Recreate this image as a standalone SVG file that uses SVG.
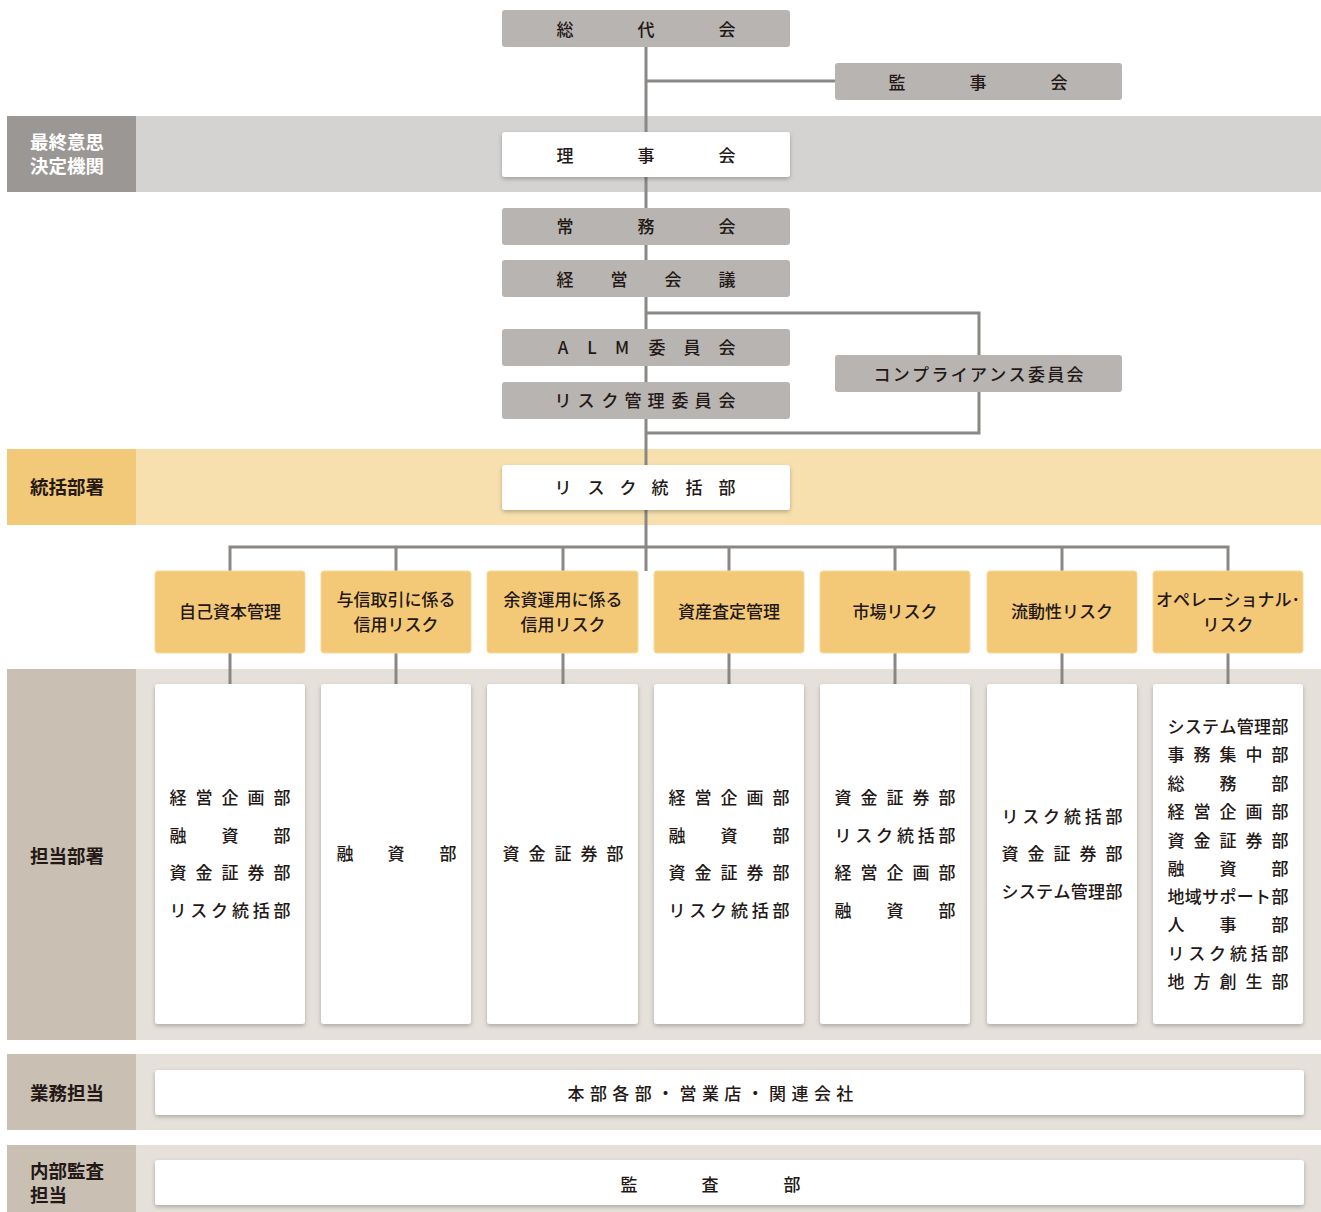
<svg xmlns="http://www.w3.org/2000/svg" width="1321" height="1212" viewBox="0 0 1321 1212">
<defs>
<filter id="sh" x="-10%" y="-20%" width="120%" height="150%">
<feDropShadow dx="0" dy="2" stdDeviation="2" flood-color="#000" flood-opacity="0.25"/>
</filter>
<style>
text{font-family:"Noto Sans CJK JP","Noto Sans",sans-serif;font-size:17px;fill:#231815;dominant-baseline:central;font-weight:500;text-anchor:middle;transform:translate(0px,-1px)}
.lab{font-size:18.5px;font-weight:700;text-anchor:start}
.labw{font-size:18.5px;font-weight:700;fill:#fff;text-anchor:start}
.g{fill:#b8b4b2}
.w{fill:#fff;filter:url(#sh)}
.y{fill:#f3c978;stroke:#f6d999;stroke-width:1}
.ln{stroke:#8a8785;stroke-width:3;fill:none}
</style>
</defs>
<rect width="1321" height="1212" fill="#fff"/>
<g id="bands">
<rect x="136" y="116" width="1185" height="76" fill="#d4d3d1"/>
<rect x="7" y="116" width="129" height="76" fill="#9b9794"/>
<rect x="136" y="449" width="1185" height="76" fill="#f8e0ae"/>
<rect x="7" y="449" width="129" height="76" fill="#f2c978"/>
<rect x="136" y="669" width="1185" height="371" fill="#e5e0d9"/>
<rect x="7" y="669" width="129" height="371" fill="#c9c0b3"/>
<rect x="136" y="1054" width="1185" height="76" fill="#e5e0d9"/>
<rect x="7" y="1054" width="129" height="76" fill="#c9c0b3"/>
<rect x="136" y="1145" width="1185" height="67" fill="#e5e0d9"/>
<rect x="7" y="1145" width="129" height="67" fill="#c9c0b3"/>
<text class="labw" x="30" y="142">最終意思</text>
<text class="labw" x="30" y="166">決定機関</text>
<text class="lab" x="30" y="487">統括部署</text>
<text class="lab" x="30" y="856">担当部署</text>
<text class="lab" x="30" y="1093">業務担当</text>
<text class="lab" x="30" y="1171">内部監査</text>
<text class="lab" x="30" y="1195">担当</text>
</g>
<g id="connectors">
<path class="ln" d="M646 47V571"/>
<path class="ln" d="M646 81H835"/>
<path class="ln" d="M646 313H979V433H646"/>
<path class="ln" d="M230 571V547H1228V571M396 547V571M563 547V571M729 547V571M895 547V571M1062 547V571"/>
<path class="ln" d="M230 653V684M396 653V684M563 653V684M729 653V684M895 653V684M1062 653V684M1228 653V684"/>
</g>
<g id="n-soudai"><rect class="g" x="502" y="10" width="288" height="37" rx="3"/><text x="565 646 727" y="29">総代会</text></g>
<g id="n-kanji"><rect class="g" x="835" y="63" width="287" height="37" rx="3"/><text x="897 978 1059" y="82">監事会</text></g>
<g id="n-riji"><rect class="w" x="502" y="132" width="288" height="45" rx="3"/><text x="565 646 727" y="155">理事会</text></g>
<g id="n-joumu"><rect class="g" x="502" y="208" width="288" height="37" rx="3"/><text x="565 646 727" y="226">常務会</text></g>
<g id="n-keiei"><rect class="g" x="502" y="260" width="288" height="37" rx="3"/><text x="565 619 673 727" y="279">経営会議</text></g>
<g id="n-alm"><rect class="g" x="502" y="329" width="288" height="37" rx="3"/><text x="563 592 622 657 692 727" y="347">ALM委員会</text></g>
<g id="n-risk-iin"><rect class="g" x="502" y="382" width="288" height="37" rx="3"/><text x="563 586 610 633 656 680 703 727" y="400">リスク管理委員会</text></g>
<g id="n-comp"><rect class="g" x="835" y="355" width="287" height="37" rx="3"/><text x="882 901.3 920.6 939.9 959.2 978.5 997.8 1017.1 1036.4 1055.7 1075" y="374">コンプライアンス委員会</text></g>
<g id="n-risk-tokatsu"><rect class="w" x="502" y="465" width="288" height="45" rx="3"/><text x="563 596 628 660 694 727" y="487">リスク統括部</text></g>
<g id="n-y1"><rect class="y" x="155" y="571" width="150" height="82" rx="3"/><text x="230" y="611">自己資本管理</text></g>
<g id="n-y2"><rect class="y" x="321" y="571" width="150" height="82" rx="3"/><text x="396" y="599">与信取引に係る</text><text x="396" y="624">信用リスク</text></g>
<g id="n-y3"><rect class="y" x="487" y="571" width="151" height="82" rx="3"/><text x="563" y="599">余資運用に係る</text><text x="563" y="624">信用リスク</text></g>
<g id="n-y4"><rect class="y" x="654" y="571" width="150" height="82" rx="3"/><text x="729" y="611">資産査定管理</text></g>
<g id="n-y5"><rect class="y" x="820" y="571" width="150" height="82" rx="3"/><text x="895" y="611">市場リスク</text></g>
<g id="n-y6"><rect class="y" x="987" y="571" width="150" height="82" rx="3"/><text x="1062" y="611">流動性リスク</text></g>
<g id="n-y7"><rect class="y" x="1153" y="571" width="150" height="82" rx="3"/><text x="1228" y="599">オペレーショナル･</text><text x="1228" y="624">リスク</text></g>
<g id="n-w1"><rect class="w" x="155" y="684" width="150" height="340" rx="3"/>
<text x="178 204 230 256 282" y="797">経営企画部</text>
<text x="178 230 282" y="835">融資部</text>
<text x="178 204 230 256 282" y="872">資金証券部</text>
<text x="178 198.8 219.6 240.4 261.2 282" y="910">リスク統括部</text></g>
<g id="n-w2"><rect class="w" x="321" y="684" width="150" height="340" rx="3"/>
<text x="345 396 448" y="853">融資部</text></g>
<g id="n-w3"><rect class="w" x="487" y="684" width="151" height="340" rx="3"/>
<text x="511 537 563 589 615" y="853">資金証券部</text></g>
<g id="n-w4"><rect class="w" x="654" y="684" width="150" height="340" rx="3"/>
<text x="677 703 729 755 781" y="797">経営企画部</text>
<text x="677 729 781" y="835">融資部</text>
<text x="677 703 729 755 781" y="872">資金証券部</text>
<text x="677 697.8 718.6 739.4 760.2 781" y="910">リスク統括部</text></g>
<g id="n-w5"><rect class="w" x="820" y="684" width="150" height="340" rx="3"/>
<text x="843 869 895 921 947" y="797">資金証券部</text>
<text x="843 863.8 884.6 905.4 926.2 947" y="835">リスク統括部</text>
<text x="843 869 895 921 947" y="872">経営企画部</text>
<text x="843 895 947" y="910">融資部</text></g>
<g id="n-w6"><rect class="w" x="987" y="684" width="150" height="340" rx="3"/>
<text x="1010 1030.8 1051.6 1072.4 1093.2 1114" y="816">リスク統括部</text>
<text x="1010 1036 1062 1088 1114" y="853">資金証券部</text>
<text x="1010 1027.3 1044.6 1062 1079.3 1096.6 1114" y="891">システム管理部</text></g>
<g id="n-w7"><rect class="w" x="1153" y="684" width="150" height="340" rx="3"/>
<text x="1176 1193.3 1210.6 1228 1245.3 1262.6 1280" y="726">システム管理部</text>
<text x="1176 1202 1228 1254 1280" y="754">事務集中部</text>
<text x="1176 1228 1280" y="783">総務部</text>
<text x="1176 1202 1228 1254 1280" y="811">経営企画部</text>
<text x="1176 1202 1228 1254 1280" y="840">資金証券部</text>
<text x="1176 1228 1280" y="868">融資部</text>
<text x="1176 1193.3 1210.6 1228 1245.3 1262.6 1280" y="896">地域サポート部</text>
<text x="1176 1228 1280" y="924">人事部</text>
<text x="1176 1196.8 1217.6 1238.4 1259.2 1280" y="953">リスク統括部</text>
<text x="1176 1202 1228 1254 1280" y="981">地方創生部</text></g>
<g id="n-gyomu"><rect class="w" x="155" y="1070" width="1149" height="45" rx="3"/>
<text x="576 598.4 620.8 643.2 665.6 688 710.4 732.8 755.2 777.6 800 822.4 844.8" y="1093">本部各部・営業店・関連会社</text></g>
<g id="n-kansa"><rect class="w" x="155" y="1160" width="1149" height="45" rx="3"/>
<text x="629 710 792" y="1184">監査部</text></g>
</svg>
